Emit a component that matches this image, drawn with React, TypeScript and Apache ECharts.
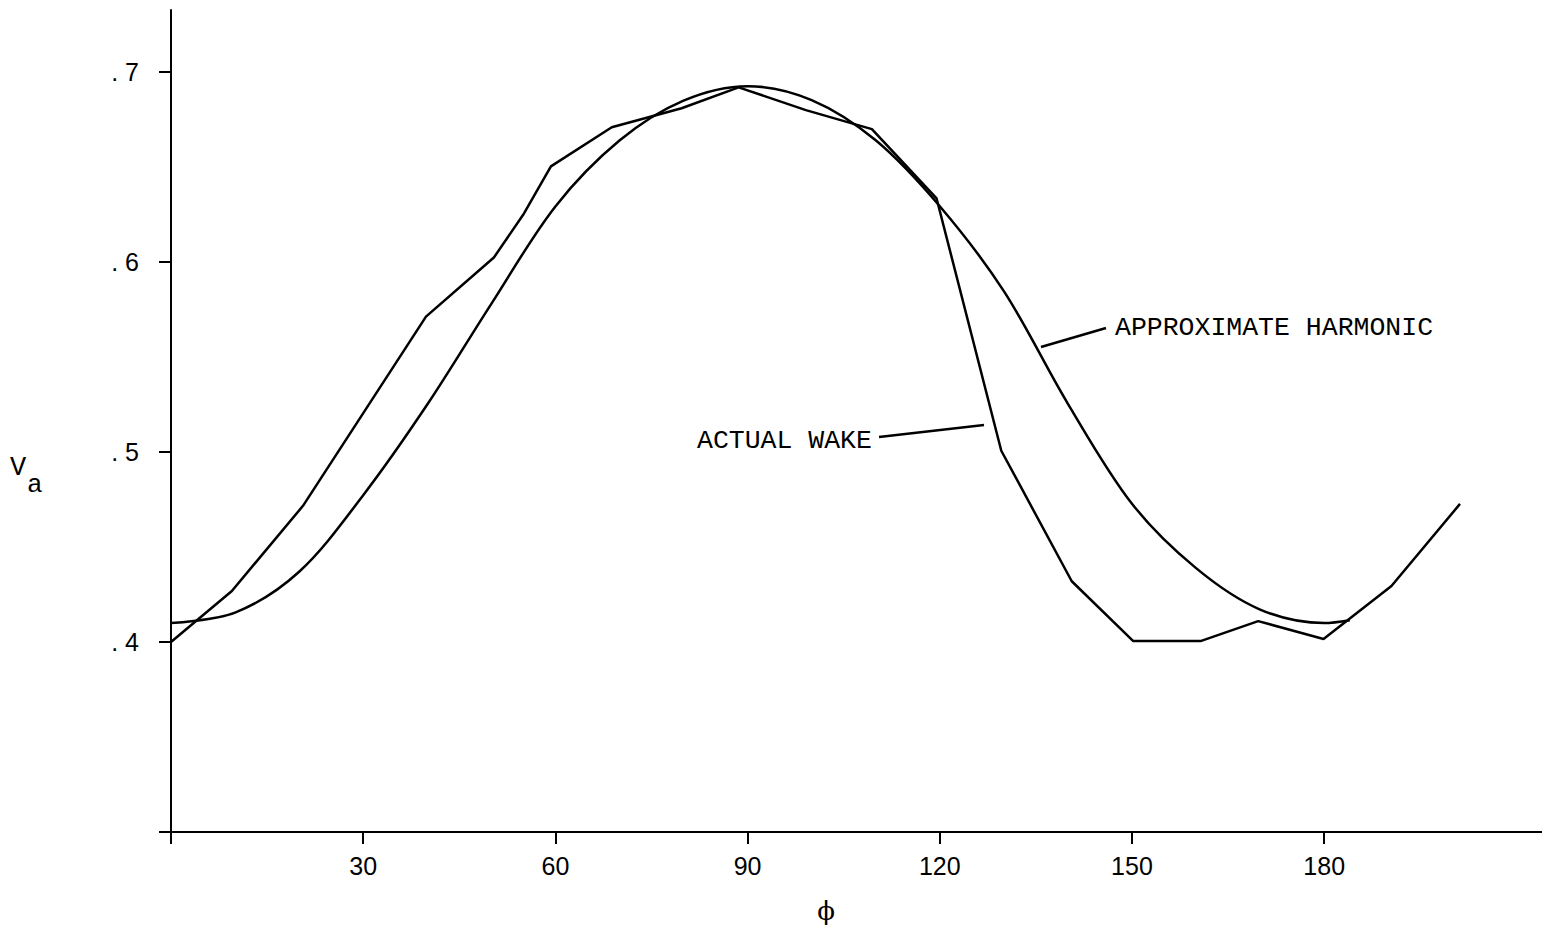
import React, { useEffect, useRef } from "react";
import * as echarts from "echarts";

// Approximate harmonic curve (phi in degrees, Va)
const harmonicPhi = [0, 10, 20, 30, 40, 50, 60, 70, 80, 90, 100, 110, 120, 130, 140, 150, 160, 170, 180, 184];
const harmonicV = [0.41, 0.4155, 0.437, 0.4773, 0.525, 0.578, 0.6293, 0.664, 0.685, 0.6926, 0.6853, 0.6641, 0.6294, 0.5847, 0.5254, 0.4728, 0.4389, 0.4171, 0.41, 0.4115];

// Actual wake (phi in degrees, Va)
const wakePhi = [0, 9.5, 20.6, 39.8, 50.4, 55.1, 59.3, 68.8, 79.7, 88.6, 99.1, 109.4, 119.5, 129.6, 140.6, 150.2, 160.7, 169.7, 179.9, 190.5, 201.2];
const wakeV = [0.4, 0.4269, 0.4717, 0.5713, 0.6024, 0.6256, 0.6504, 0.671, 0.681, 0.692, 0.68, 0.67, 0.6335, 0.5007, 0.432, 0.4005, 0.4005, 0.411, 0.4016, 0.4295, 0.4727];

const xTicks = [0, 30, 60, 90, 120, 150, 180];
const xLabels = [30, 60, 90, 120, 150, 180];
const yTicks = [0.3, 0.4, 0.5, 0.6, 0.7];
const yLabels = [0.4, 0.5, 0.6, 0.7];

const TYPE_FONT = "'Liberation Mono', 'DejaVu Sans Mono', monospace";
const TICK_FONT = "'Liberation Sans', Arial, sans-serif";

export default function App() {
  const ref = useRef<HTMLDivElement>(null);

  useEffect(() => {
    document.body.style.margin = "0";
    document.documentElement.style.margin = "0";
    const chart = echarts.init(ref.current!, null, { renderer: "svg" });
    const harmonic = harmonicPhi.map((p, i) => [p, harmonicV[i]]);
    const wake = wakePhi.map((p, i) => [p, wakeV[i]]);

    chart.setOption({
      animation: false,
      backgroundColor: "#ffffff",
      grid: { left: 171, right: 0, top: 10, bottom: 93, containLabel: false },
      xAxis: {
        type: "value",
        min: 0,
        max: 214,
        interval: 30,
        splitLine: { show: false },
        axisLine: { show: true, onZero: false, lineStyle: { color: "#000", width: 2 } },
        axisTick: { show: true, length: 12, customValues: xTicks, lineStyle: { color: "#000", width: 2 } },
        axisLabel: {
          customValues: xLabels,
          color: "#000",
          fontSize: 25,
          fontFamily: TICK_FONT,
          margin: 21,
        },
      },
      yAxis: {
        type: "value",
        min: 0.3,
        max: 0.7327,
        interval: 0.1,
        splitLine: { show: false },
        axisLine: { show: true, onZero: false, lineStyle: { color: "#000", width: 2 } },
        axisTick: { show: true, length: 12, customValues: yTicks, lineStyle: { color: "#000", width: 2 } },
        axisLabel: {
          customValues: yLabels,
          color: "#000",
          fontSize: 25,
          fontFamily: TICK_FONT,
          margin: 32,
          padding: [10, 0, 0, 0],
          formatter: (v: number) => ". " + Math.round(v * 10),
        },
      },
      series: [
        {
          name: "Approximate harmonic",
          type: "line",
          data: harmonic,
          smooth: 0.33,
          symbol: "none",
          lineStyle: { color: "#000", width: 2.5 },
        },
        {
          name: "Actual wake",
          type: "line",
          data: wake,
          symbol: "none",
          lineStyle: { color: "#000", width: 2.5 },
        },
      ],
      graphic: [
        {
          type: "text",
          x: 1115,
          y: 328,
          style: { text: "APPROXIMATE HARMONIC", fill: "#000", font: `26.5px ${TYPE_FONT}`, verticalAlign: "middle" },
        },
        {
          type: "line",
          shape: { x1: 1041, y1: 347, x2: 1106, y2: 328 },
          style: { stroke: "#000", lineWidth: 2.5 },
        },
        {
          type: "text",
          x: 697,
          y: 441,
          style: { text: "ACTUAL WAKE", fill: "#000", font: `26.5px ${TYPE_FONT}`, verticalAlign: "middle" },
        },
        {
          type: "line",
          shape: { x1: 879, y1: 437, x2: 984, y2: 425 },
          style: { stroke: "#000", lineWidth: 2.5 },
        },
        {
          type: "text",
          x: 10,
          y: 468,
          style: { text: "V", fill: "#000", font: `27px ${TYPE_FONT}`, verticalAlign: "middle" },
        },
        {
          type: "text",
          x: 27,
          y: 485,
          style: { text: "a", fill: "#000", font: `26px ${TYPE_FONT}`, verticalAlign: "middle" },
        },
        {
          type: "text",
          x: 826,
          y: 911,
          style: { text: "ϕ", fill: "#000", font: `26px 'DejaVu Serif', serif`, align: "center", verticalAlign: "middle" },
        },
      ],
    });
    return () => chart.dispose();
  }, []);

  return <div ref={ref} style={{ width: 1542, height: 925 }} />;
}
